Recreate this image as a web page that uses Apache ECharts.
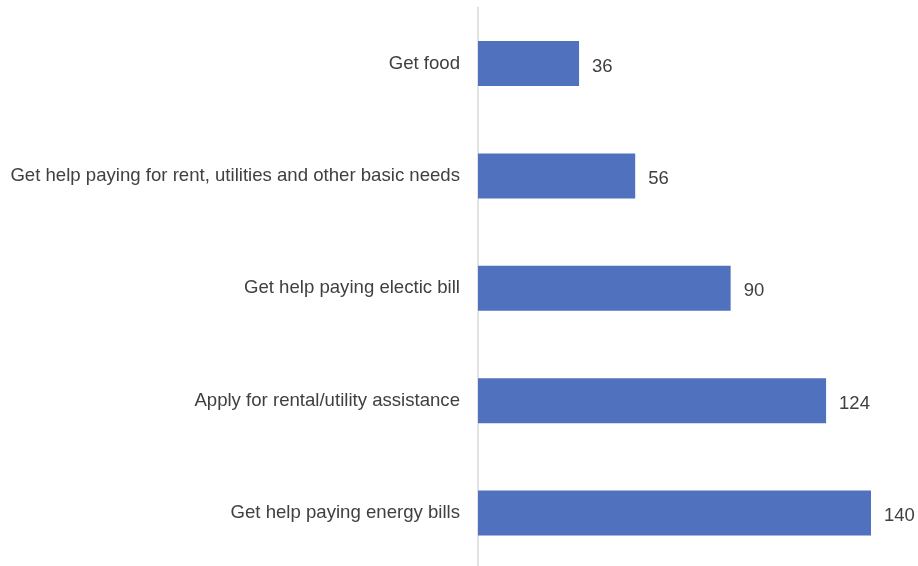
<!DOCTYPE html>
<html><head><meta charset="utf-8">
<script src="https://cdn.jsdelivr.net/npm/echarts@6/dist/echarts.min.js"></script>
<style>html,body{margin:0;padding:0;background:#fff;overflow:hidden}#c{width:918px;height:574px}</style>
</head><body><div id="c"></div>
<script>
const categories = ["Get help paying energy bills","Apply for rental/utility assistance","Get help paying electic bill","Get help paying for rent, utilities and other basic needs","Get food"];
const values = [140,124,90,56,36];
const chart = echarts.init(document.getElementById('c'));
const font = "'Liberation Sans', Arial, sans-serif";
chart.setOption({
  animation:false,
  grid:{left:478,width:393,top:7.3,height:562},
  xAxis:{type:'value',min:0,max:140,show:false},
  yAxis:{type:'category',data:categories,
    axisLine:{show:true,lineStyle:{color:'#d9d9d9',width:1.5}},
    axisTick:{show:false},
    axisLabel:{color:'#404040',fontSize:18.6,fontFamily:font,margin:18}},
  series:[{type:'bar',data:values,barWidth:45,
    itemStyle:{color:'#4F71BE'},
    label:{show:true,position:'right',distance:13,offset:[0,3],color:'#404040',fontSize:18.5,fontFamily:font}}]
});
</script></body></html>
